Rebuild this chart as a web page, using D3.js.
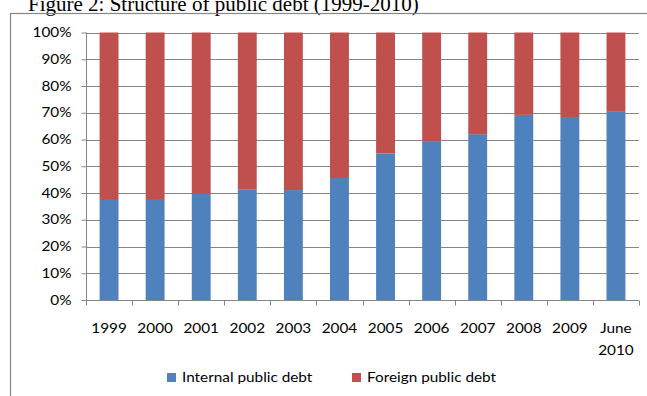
<!DOCTYPE html>
<html><head><meta charset="utf-8">
<script src="https://cdn.jsdelivr.net/npm/d3@7"></script>
<style>body{margin:0;background:#fff}svg{display:block}</style>
</head><body><svg id="c" width="647" height="396"></svg>
<script>
const categories = ["1999","2000","2001","2002","2003","2004","2005","2006","2007","2008","2009","June 2010"];
const internalDebt = [37.4,37.4,39.7,41.4,41.1,45.6,54.8,59.4,62.0,69.2,68.4,70.6];
const foreignDebt = internalDebt.map(v => 100 - v);
const seriesNames = ["Internal public debt","Foreign public debt"];
const yTicks = [0,10,20,30,40,50,60,70,80,90,100];

const svg = d3.select("#c");
const W = 647, H = 396;
const x = d3.scaleBand().domain(categories).range([86,639]).paddingInner(0.59).paddingOuter(0.295);
const y = d3.scaleLinear().domain([0,100]).range([300,32.5]);
const colors = ["#4F81BD","#C0504D"];
const axisColor = "#868686";
const font = "Lato, 'Open Sans', sans-serif";
const fs = 13, sx = 1.18;

// title
svg.append("text").attr("x",28).attr("y",11).attr("font-family","'Liberation Serif','Times New Roman',serif")
  .attr("font-size",21).attr("fill","#000").text("Figure 2: Structure of public debt (1999-2010)");

// frame
svg.append("rect").attr("x",10.5).attr("y",13.5).attr("width",W).attr("height",H).attr("fill","none").attr("stroke",axisColor).attr("stroke-width",1.2);

// gridlines
svg.append("g").selectAll("line").data(yTicks.filter(d=>d>0)).join("line")
  .attr("x1",86).attr("x2",639).attr("y1",d=>Math.round(y(d))+0.5).attr("y2",d=>Math.round(y(d))+0.5)
  .attr("stroke",axisColor).attr("stroke-width",1);

// stacked bars
const rows = categories.map((c,i)=>({cat:c, internal:internalDebt[i], foreign:foreignDebt[i]}));
const stack = d3.stack().keys(["internal","foreign"])(rows);
svg.append("g").selectAll("g").data(stack).join("g").attr("fill",(d,i)=>colors[i])
  .selectAll("rect").data(d=>d).join("rect")
  .attr("x",d=>x(d.data.cat)).attr("width",x.bandwidth())
  .attr("y",d=>y(d[1])).attr("height",d=>y(d[0])-y(d[1]));

// y axis
const ya = svg.append("g").attr("transform","translate(86.5,0)")
  .call(d3.axisLeft(y).tickValues(yTicks).tickFormat(d=>d+"%").tickSize(5).tickPadding(10));
ya.select(".domain").attr("stroke",axisColor).attr("d","M0,"+y(100)+"V"+(y(0)+0.5));
ya.selectAll(".tick line").attr("stroke",axisColor);
ya.selectAll(".tick text").attr("font-family",font).attr("font-size",fs).attr("fill","#000")
  .attr("x",-15/sx).attr("transform",`scale(${sx},1)`);

// x axis
const xa = svg.append("g").attr("transform","translate(0,300.5)");
xa.append("line").attr("x1",86).attr("x2",639).attr("stroke",axisColor);
const edges = d3.range(categories.length+1).map(i=>86 + i*(553/categories.length));
xa.selectAll("line.t").data(edges).join("line").attr("class","t")
  .attr("x1",d=>Math.round(d)+0.5).attr("x2",d=>Math.round(d)+0.5).attr("y1",0).attr("y2",5).attr("stroke",axisColor);
xa.selectAll("text").data(categories).join("text")
  .attr("font-family",font).attr("font-size",fs).attr("fill","#000").attr("text-anchor","middle")
  .attr("transform",d=>`translate(${x(d)+x.bandwidth()/2},0) scale(${sx},1)`)
  .each(function(d){
    const parts = d.split(" ");
    d3.select(this).selectAll("tspan").data(parts).join("tspan")
      .attr("x",0).attr("y",(p,i)=>32.5+i*22).text(p=>p);
  });

// legend
const leg = svg.append("g");
const legItems = [{name:seriesNames[0],x:167,c:colors[0]},{name:seriesNames[1],x:352,c:colors[1]}];
legItems.forEach(it=>{
  leg.append("rect").attr("x",it.x).attr("y",373).attr("width",9).attr("height",9).attr("fill",it.c);
  leg.append("text").attr("transform",`translate(${it.x+15},382) scale(${sx},1)`).attr("font-family",font).attr("font-size",fs).attr("fill","#000").text(it.name);
});
</script></body></html>
